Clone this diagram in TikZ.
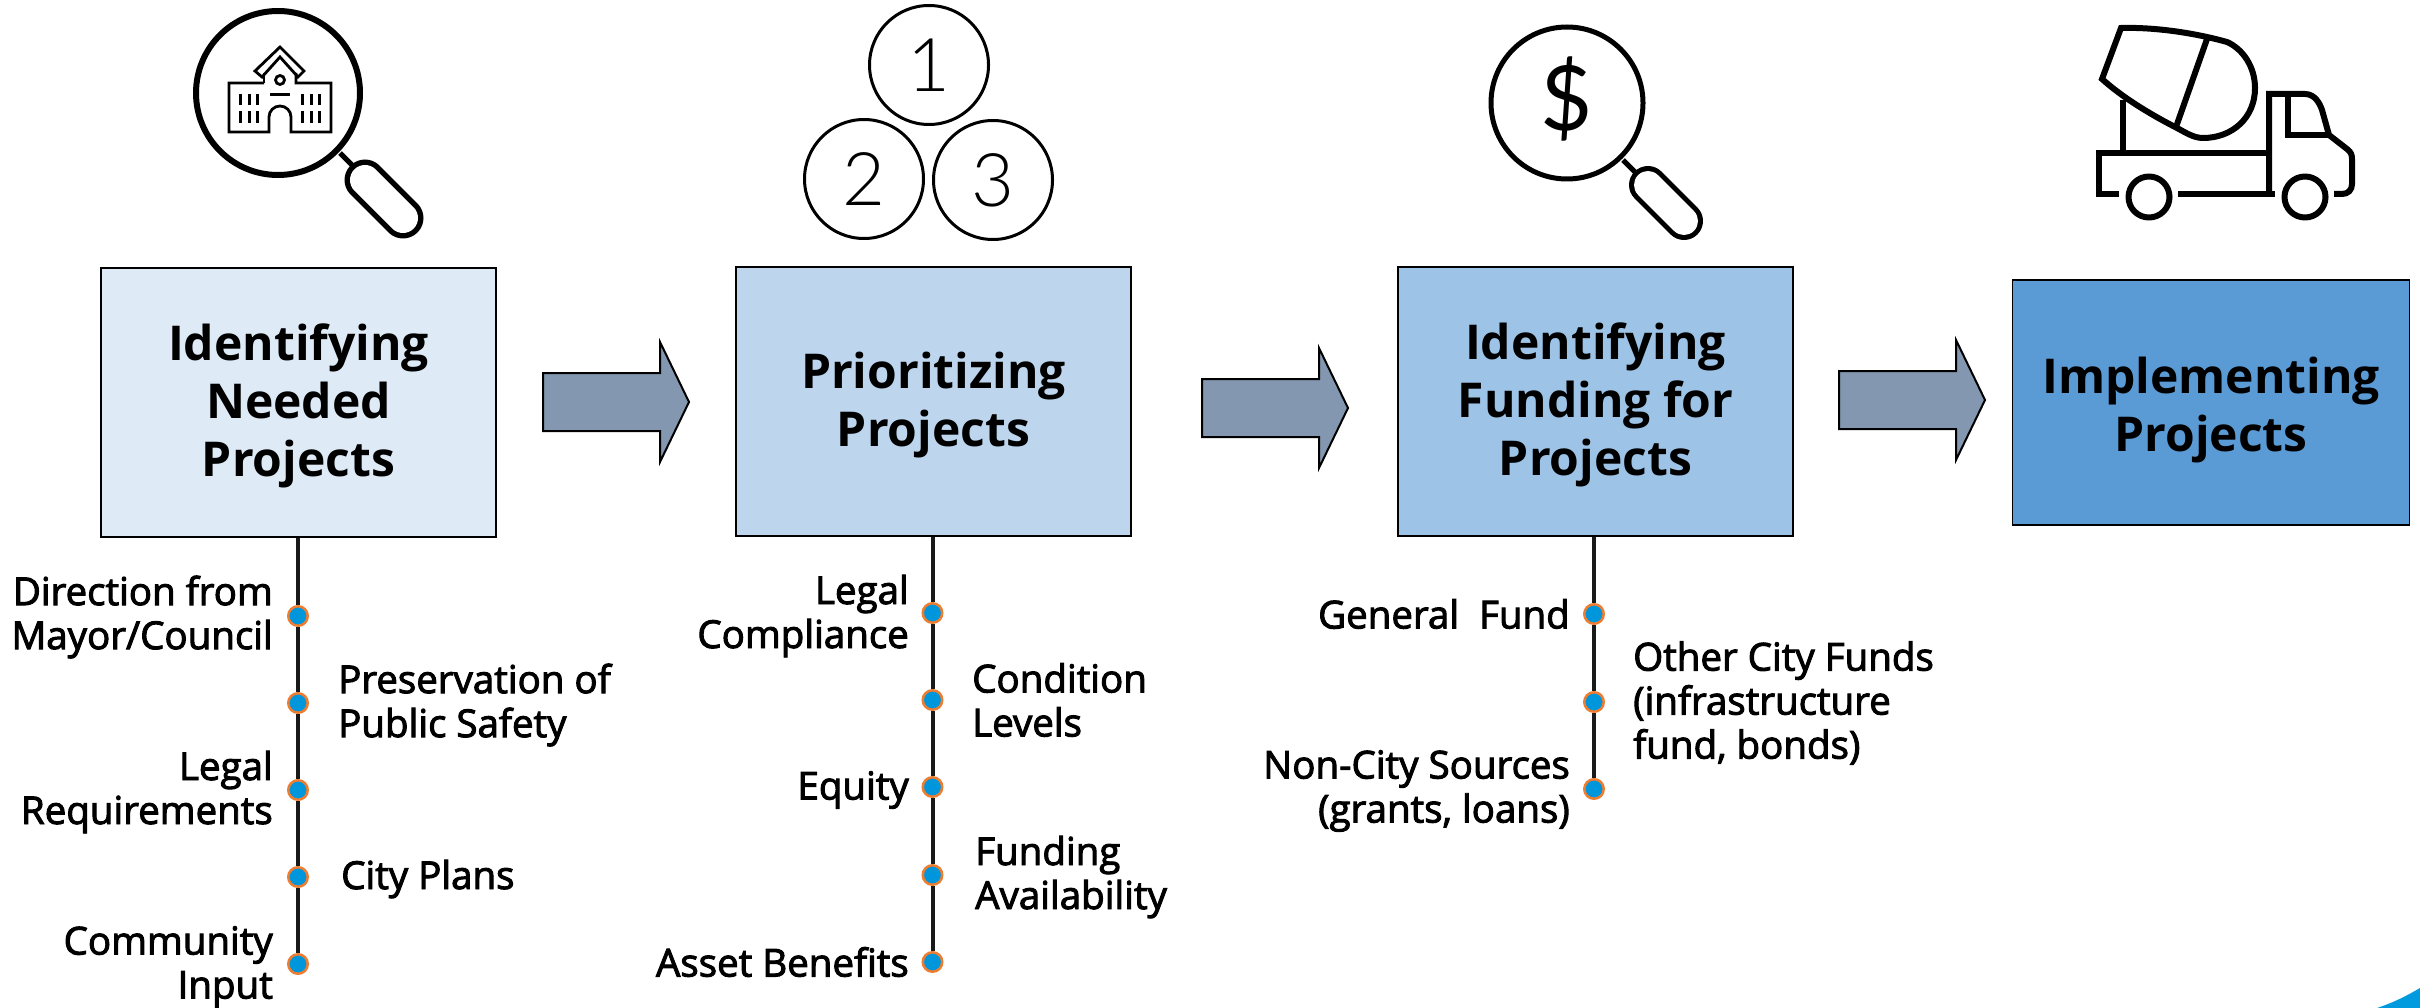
\documentclass[tikz,border=0pt]{standalone}
\usepackage{fontspec}
\setmainfont{Open Sans}
\newfontfamily\semif{Open Sans}[FakeBold=2.5]
\newfontfamily\lightf{Lato Light}
\newfontfamily\dollarf{Lato}
\definecolor{boxa}{HTML}{DEEAF6}
\definecolor{boxb}{HTML}{BDD6EE}
\definecolor{boxc}{HTML}{9DC3E6}
\definecolor{boxd}{HTML}{5B9BD5}
\definecolor{arrowfill}{HTML}{8497B0}
\definecolor{dotfill}{HTML}{0096DB}
\definecolor{dotline}{HTML}{ED7D31}
\definecolor{cornerblue}{HTML}{009ADE}
\newcommand{\topgap}[1]{\rule{0pt}{#1pt}}
\tikzset{
  stagebox/.style={draw=black,line width=1.5,inner sep=4,minimum width=395,minimum height=269,align=center,
    font=\fontsize{48}{58}\selectfont\bfseries},
  blockarrow/.style={draw=black,line width=2,fill=arrowfill,miter limit=10},
  stem/.style={line width=4,draw=black!90},
  tick/.style={circle,draw=dotline,fill=dotfill,line width=2.5,inner sep=0,minimum size=19.5},
  lleft/.style={anchor=east,align=right,inner sep=0,font=\fontsize{38.5}{44}\selectfont\semif},
  lright/.style={anchor=west,align=left,inner sep=0,font=\fontsize{38.5}{44}\selectfont\semif},
  numring/.style={circle,draw=black,line width=3,fill=white,inner sep=0,minimum size=119,font=\fontsize{74}{80}\selectfont\lightf}
}
\newcommand{\blockarr}[2]{%
  \begin{scope}[shift={(#1,#2)}]
  \draw[blockarrow] (0,-29) -- (117,-29) -- (117,-60) -- (146,0) -- (117,60) -- (117,29) -- (0,29) -- cycle;
  \end{scope}}
\begin{document}
\begin{tikzpicture}[x=1pt,y=-1pt]
\useasboundingbox (0,0) rectangle (2420,1008);
% corner
\fill[cornerblue] (2377,1008) .. controls (2395,1002) and (2408,995) .. (2420,988) -- (2420,1008) -- cycle;
% boxes
\node[stagebox,fill=boxa] (s1) at (298.5,402.5) {\topgap{44}Identifying\\Needed\\Projects};
\node[stagebox,fill=boxb] (s2) at (933.5,401.5) {\topgap{44}Prioritizing\\Projects};
\node[stagebox,fill=boxc] (s3) at (1595.5,401.5) {\topgap{44}Identifying\\Funding for\\Projects};
\node[stagebox,fill=boxd,minimum width=397,minimum height=245] (s4) at (2211,402.5) {\topgap{52}Implementing\\Projects};
% block arrows
\blockarr{543}{402}
\blockarr{1202}{408}
\blockarr{1839}{400}
% ticks
\foreach \n/\y in {a/616,b/703,c/790,d/877,e/964} \node[tick] (p1\n) at (298,\y) {};
\foreach \n/\y in {a/613,b/700,c/787,d/875,e/962} \node[tick] (p2\n) at (932.5,\y) {};
\foreach \n/\y in {a/614,b/702,c/789} \node[tick] (p3\n) at (1594,\y) {};
\draw[stem] (s1.south -| p1a) -- (p1a);
\draw[stem] (p1a) -- (p1b) (p1b) -- (p1c) (p1c) -- (p1d) (p1d) -- (p1e);
\draw[stem] (s2.south -| p2a) -- (p2a);
\draw[stem] (p2a) -- (p2b) (p2b) -- (p2c) (p2c) -- (p2d) (p2d) -- (p2e);
\draw[stem] (s3.south -| p3a) -- (p3a);
\draw[stem] (p3a) -- (p3b) (p3b) -- (p3c);
% labels
\node[lleft] (t1) at (273,617) {Direction from\\Mayor/Council};
\node[lright] (t2) at (338,705) {Preservation of\\Public Safety};
\node[lleft] (t3) at (273,792) {Legal\\Requirements};
\node[lright] (t4) at (341,879) {City Plans};
\node[lleft] (t5) at (273,967) {Community\\Input};
\node[lleft] (u1) at (909,616) {Legal\\Compliance};
\node[lright] (u2) at (972,700) {Condition\\Levels};
\node[lleft] (u3) at (909,790) {Equity};
\node[lright] (u4) at (975,877) {Funding\\Availability};
\node[lleft] (u5) at (909,962) {Asset Benefits};
\node[lleft] (v1) at (1570,614) {General\ \ Fund};
\node[lright] (v2) at (1633,703) {Other City Funds\\(infrastructure\\fund, bonds)};
\node[lleft] (v3) at (1570,791) {Non-City Sources\\(grants, loans)};
% magnifier 1
\draw[line width=6] (278,93) circle (82);
\draw[line width=5] (340,153) -- (352,165);
\draw[line width=41,line cap=round] (365,180) -- (403,218);
\draw[white,line width=30,line cap=round] (365,180) -- (403,218);
% building
\begin{scope}[line width=2.8]
\draw (264,83) -- (229,83) -- (229,132) -- (269,132) -- (269,117) arc (180:360:11) -- (291,132) -- (331,132) -- (331,83) -- (296,83) -- (296,73);
\draw (264,83) -- (264,73);
\draw[line join=miter] (280,47) -- (255,71) -- (262,77) -- (280,57) -- (298,77) -- (304,71) -- cycle;
\draw (280,80) circle (4.5);
\draw[line width=3] (270,95) -- (290,95);
\foreach \x in {240,249,257,302,311,319} {
  \draw[line width=3] (\x,94) -- (\x,105);
  \draw[line width=3] (\x,111) -- (\x,123);
}
\end{scope}
% number rings
\node[numring] (r1) at (929,65) {1};
\node[numring] (r2) at (864,179) {2};
\node[numring] (r3) at (993,180) {3};
% magnifier 2
\draw[line width=5] (1567,103) circle (76);
\draw[line width=5] (1623,160) -- (1635,172);
\draw[line width=38,line cap=round] (1648,185) -- (1684,221);
\draw[white,line width=28,line cap=round] (1648,185) -- (1684,221);
\node[inner sep=0,font=\fontsize{90}{100}\selectfont\dollarf] (dollar) at (1567,99) {\$};
% truck
\begin{scope}[line width=6,line join=round]
\draw (2123,100) -- (2123,153);
\draw[line join=miter] (2121,28) .. controls (2155,27) and (2195,33) .. (2227,42) .. controls (2243,49) and (2255,67) .. (2255,88) .. controls (2255,118) and (2232,138) .. (2203,138) .. controls (2193,138) and (2185,132) .. (2175,127) .. controls (2148,113) and (2122,97) .. (2102,79) -- cycle;
\draw (2207,39) -- (2176,127);
\draw[line join=miter] (2119,194) -- (2099,194) -- (2099,153) -- (2269,153);
\draw (2178,194) -- (2275,194);
\draw[line join=miter] (2269,194) -- (2269,94) -- (2305,94) .. controls (2315,94) and (2320,104) .. (2322,110) -- (2329,135) -- (2347,149) .. controls (2351,152) and (2352,155) .. (2352,159) -- (2352,184) .. controls (2352,190) and (2348,194) .. (2342,194) -- (2334,194);
\draw[line join=miter] (2288,94) -- (2288,135) -- (2329,135);
\draw (2149,197) circle (20.5);
\draw (2305,197) circle (20.5);
\end{scope}
\end{tikzpicture}
\end{document}
